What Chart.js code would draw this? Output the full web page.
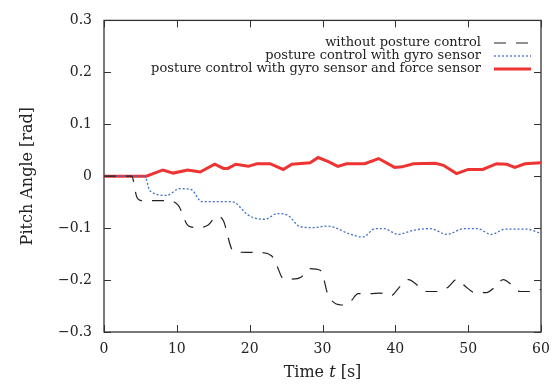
<!DOCTYPE html>
<html><head><meta charset="utf-8">
<script src="https://cdn.jsdelivr.net/npm/chart.js@4"></script>
<style>html,body{margin:0;padding:0;background:#fff}#wrap{width:559px;height:385px}</style>
</head><body><div id="wrap"><canvas id="c" width="559" height="385"></canvas></div>
<script>
const seriesLabels = ["without posture control", "posture control with gyro sensor", "posture control with gyro sensor and force sensor"];
const xTicks = [0, 10, 20, 30, 40, 50, 60];
const yTicks = [-0.3, -0.2, -0.1, 0, 0.1, 0.2, 0.3];

const tNone = [0,3.8,4.5,5.2,8.6,10.2,11.6,12.9,14.3,15.5,16.4,17.5,18.2,21.4,23,23.7,24.6,25.8,27.1,28.2,29.7,30.2,30.6,31.3,32.6,33.8,34.9,36.5,37.9,39.4,40.6,41.8,43.2,44.1,45.9,47.3,48.4,49.6,50.9,52.5,53.7,54.8,56.2,57.1,58.7,60];
const vNone = [0,0,-0.04,-0.047,-0.047,-0.056,-0.096,-0.099,-0.094,-0.077,-0.086,-0.139,-0.146,-0.147,-0.153,-0.171,-0.197,-0.198,-0.194,-0.178,-0.181,-0.199,-0.222,-0.240,-0.248,-0.242,-0.226,-0.226,-0.225,-0.230,-0.213,-0.199,-0.212,-0.222,-0.222,-0.213,-0.199,-0.212,-0.224,-0.224,-0.213,-0.199,-0.212,-0.222,-0.222,-0.218];

const tGyro = [0,5.6,6.3,8.6,10.4,12,13.4,17.3,18,19.8,22.1,23.8,25.2,26.9,28.7,30.6,32.1,33.3,35.6,37.2,38.4,40.4,42.5,44.8,47.1,49.4,51.2,53.2,55.1,58,60];
const vGyro = [0,0,-0.028,-0.037,-0.024,-0.026,-0.049,-0.049,-0.051,-0.075,-0.083,-0.072,-0.075,-0.097,-0.099,-0.096,-0.101,-0.109,-0.117,-0.101,-0.101,-0.112,-0.104,-0.101,-0.112,-0.101,-0.101,-0.112,-0.102,-0.102,-0.110];

const tForce = [0,5.8,8.1,9.5,11.5,13.2,15.2,16.4,17,18.1,19.8,21,22.8,24.6,25.8,28.3,29.4,30.8,32.1,33.3,35.8,37.7,39.9,40.9,42.5,45.5,46.6,48.4,50,52,53.9,55.3,56.4,57.8,60];
const vForce = [0,0,0.012,0.006,0.012,0.008,0.023,0.015,0.015,0.023,0.019,0.024,0.024,0.013,0.023,0.026,0.036,0.028,0.019,0.024,0.024,0.034,0.017,0.018,0.024,0.025,0.021,0.005,0.013,0.013,0.024,0.023,0.017,0.024,0.026];

const pts = (t, v) => t.map((x, i) => ({x: x, y: v[i]}));
const SERIF = "'DejaVu Serif', serif";
const AXIS = '#333';

function fmt(v) {
  const r = Math.round(v * 10) / 10;
  if (r === 0) return '0';
  return (r < 0 ? '\u2212' : '') + Math.abs(r).toFixed(1);
}

const framePlugin = {
  id: 'frame',
  beforeDatasetsDraw(chart) {
    const {ctx, chartArea: a, scales} = chart;
    ctx.save();
    ctx.strokeStyle = AXIS;
    ctx.lineWidth = 1.3;
    ctx.strokeRect(a.left, a.top, a.right - a.left, a.bottom - a.top);
    ctx.lineWidth = 1;
    const L = 7;
    ctx.beginPath();
    xTicks.forEach(v => {
      const x = Math.round(scales.x.getPixelForValue(v)) + 0.5;
      ctx.moveTo(x, a.bottom); ctx.lineTo(x, a.bottom - L);
      ctx.moveTo(x, a.top); ctx.lineTo(x, a.top + L);
    });
    yTicks.forEach(v => {
      const y = Math.round(scales.y.getPixelForValue(v)) + 0.5;
      ctx.moveTo(a.left, y); ctx.lineTo(a.left + L, y);
      ctx.moveTo(a.right, y); ctx.lineTo(a.right - L, y);
    });
    ctx.stroke();
    ctx.restore();
  },
  afterDraw(chart) {
    const {ctx, chartArea: a} = chart;
    ctx.save();
    ctx.fillStyle = '#222';
    ctx.font = '16px ' + SERIF;
    ctx.textBaseline = 'middle';
    const cx = (a.left + a.right) / 2;
    const p1 = 'Time ', p2 = 't', p3 = ' [s]';
    const w1 = ctx.measureText(p1).width, w3 = ctx.measureText(p3).width;
    ctx.font = 'italic 16px ' + SERIF;
    const w2 = ctx.measureText(p2).width;
    let x = cx - (w1 + w2 + w3) / 2;
    const ty = 373;
    ctx.font = '16px ' + SERIF; ctx.textAlign = 'left';
    ctx.fillText(p1, x, ty); x += w1;
    ctx.font = 'italic 16px ' + SERIF; ctx.fillText(p2, x, ty); x += w2;
    ctx.font = '16px ' + SERIF; ctx.fillText(p3, x, ty);
    ctx.save();
    ctx.translate(28, (a.top + a.bottom) / 2);
    ctx.rotate(-Math.PI / 2);
    ctx.textAlign = 'center';
    ctx.fillText('Pitch Angle [rad]', 0, 0);
    ctx.restore();
    // legend
    ctx.font = '13px ' + SERIF;
    ctx.textAlign = 'right';
    const rows = [43, 56, 69];
    chart.data.datasets.forEach((ds, i) => {
      const y = rows[i];
      ctx.fillStyle = '#222';
      ctx.fillText(ds.label, 481, y);
      ctx.beginPath();
      ctx.strokeStyle = ds.borderColor;
      ctx.lineWidth = ds.borderWidth;
      ctx.setLineDash(ds.borderDash || []);
      ctx.moveTo(494, y); ctx.lineTo(531, y);
      ctx.stroke();
    });
    ctx.restore();
  }
};

new Chart(document.getElementById('c'), {
  type: 'line',
  data: {
    datasets: [
      {label: seriesLabels[0], data: pts(tNone, vNone), borderColor: '#222', borderWidth: 1.2, borderDash: [12, 10], pointRadius: 0, cubicInterpolationMode: 'monotone', fill: false},
      {label: seriesLabels[1], data: pts(tGyro, vGyro), borderColor: '#3f6fc4', borderWidth: 1.3, borderDash: [2, 2], pointRadius: 0, cubicInterpolationMode: 'monotone', fill: false},
      {label: seriesLabels[2], data: pts(tForce, vForce), borderColor: '#ee3333', borderWidth: 3, pointRadius: 0, tension: 0, fill: false}
    ]
  },
  options: {
    responsive: false,
    animation: false,
    layout: {padding: {top: 20, right: 18, left: 0, bottom: 0}},
    plugins: {legend: {display: false}, tooltip: {enabled: false}},
    scales: {
      x: {
        type: 'linear', min: 0, max: 60,
        afterBuildTicks: s => { s.ticks = xTicks.map(v => ({value: v})); },
        afterFit: s => { s.height = 53; },
        grid: {display: false, drawTicks: false},
        border: {display: false},
        ticks: {color: '#222', font: {family: SERIF, size: 14}, padding: 9, maxRotation: 0}
      },
      y: {
        type: 'linear', min: -0.3, max: 0.3,
        afterBuildTicks: s => { s.ticks = yTicks.map(v => ({value: v})); },
        afterFit: s => { s.width = 104; },
        grid: {display: false, drawTicks: false},
        border: {display: false},
        ticks: {color: '#222', font: {family: SERIF, size: 14}, padding: 12, callback: v => fmt(v)}
      }
    }
  },
  plugins: [framePlugin]
});
</script></body></html>
